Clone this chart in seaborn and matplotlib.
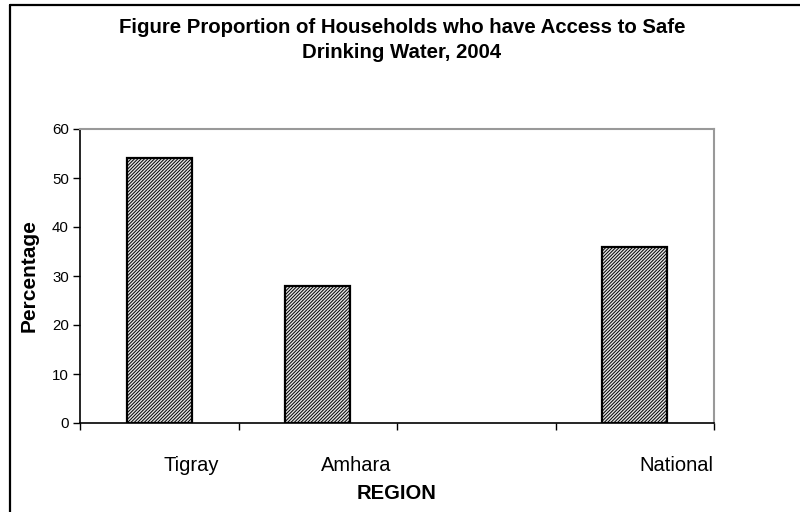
import numpy as np
import pandas as pd
import matplotlib
matplotlib.use("Agg")
import matplotlib.pyplot as plt
import matplotlib.transforms as mtransforms
from matplotlib.lines import Line2D
import seaborn as sns

# ---- data ----
regions = ["Tigray", "Amhara", "", "National"]
percent = [54, 28, np.nan, 36]
yticks = [0, 10, 20, 30, 40, 50, 60]
title = "Figure Proportion of Households who have Access to Safe\nDrinking Water, 2004"

sns.set_theme(style="white")
plt.rcParams["font.family"] = ["Liberation Sans", "DejaVu Sans"]
plt.rcParams["hatch.linewidth"] = 0.7
plt.rcParams["hatch.color"] = "#404040"
for k in ["text.color", "axes.labelcolor", "xtick.color", "ytick.color"]:
    plt.rcParams[k] = "black"

df = pd.DataFrame({"Region": regions, "Percentage": percent})

fig = plt.figure(figsize=(8, 5.12), dpi=100)
ax = fig.add_axes([80/800, 1-423/512, (714-80)/800, (423-129)/512])

sns.barplot(data=df, x="Region", y="Percentage", order=regions, ax=ax,
            color="#e4e4e4", edgecolor="black", linewidth=1.6, width=0.41,
            hatch="//////////", errorbar=None)

ax.set_ylim(0, 60)
ax.set_xlim(-0.5, len(regions) - 0.5)
ax.set_yticks(yticks)
ax.set_yticklabels([str(v) for v in yticks], fontsize=10.8)
ax.tick_params(axis="y", which="major", direction="out", length=5, width=1,
               color="black", pad=3, left=True)

# x: boundary ticks (major, no label), category labels as minor ticks
ax.set_xticks(np.arange(-0.5, len(regions), 1.0))
ax.set_xticklabels([])
ax.tick_params(axis="x", which="major", direction="out", length=5, width=1,
               color="black", bottom=True)
ax.set_xticks(np.arange(len(regions)), minor=True)
ax.set_xticklabels(regions, minor=True, fontsize=14.5)
ax.tick_params(axis="x", which="minor", length=0, pad=24)
offsets = [32, 38, 0, 42]
for lab, dx in zip(ax.xaxis.get_minorticklabels(), offsets):
    lab.set_transform(lab.get_transform() +
                      mtransforms.ScaledTranslation(dx/100, 0, fig.dpi_scale_trans))

ax.set_xlabel("REGION", fontsize=14.5, fontweight="bold", labelpad=6)
ax.set_ylabel("Percentage", fontsize=15, fontweight="bold", labelpad=10)

for s in ["left", "bottom"]:
    ax.spines[s].set_color("black")
    ax.spines[s].set_linewidth(1.2)
for s in ["top", "right"]:
    ax.spines[s].set_color("#999999")
    ax.spines[s].set_linewidth(1.5)
    ax.spines[s].set_visible(True)

fig.text(402/800, 1-40/512, title, ha="center", va="center",
         fontsize=14.7, fontweight="bold", linespacing=1.4)

# outer frame (top and left visible)
fig.add_artist(Line2D([10/800, 1], [1-5/512, 1-5/512], transform=fig.transFigure,
                      color="black", lw=1.6))
fig.add_artist(Line2D([10/800, 10/800], [0, 1-5/512], transform=fig.transFigure,
                      color="black", lw=1.6))

fig.savefig("out.png", dpi=100)
